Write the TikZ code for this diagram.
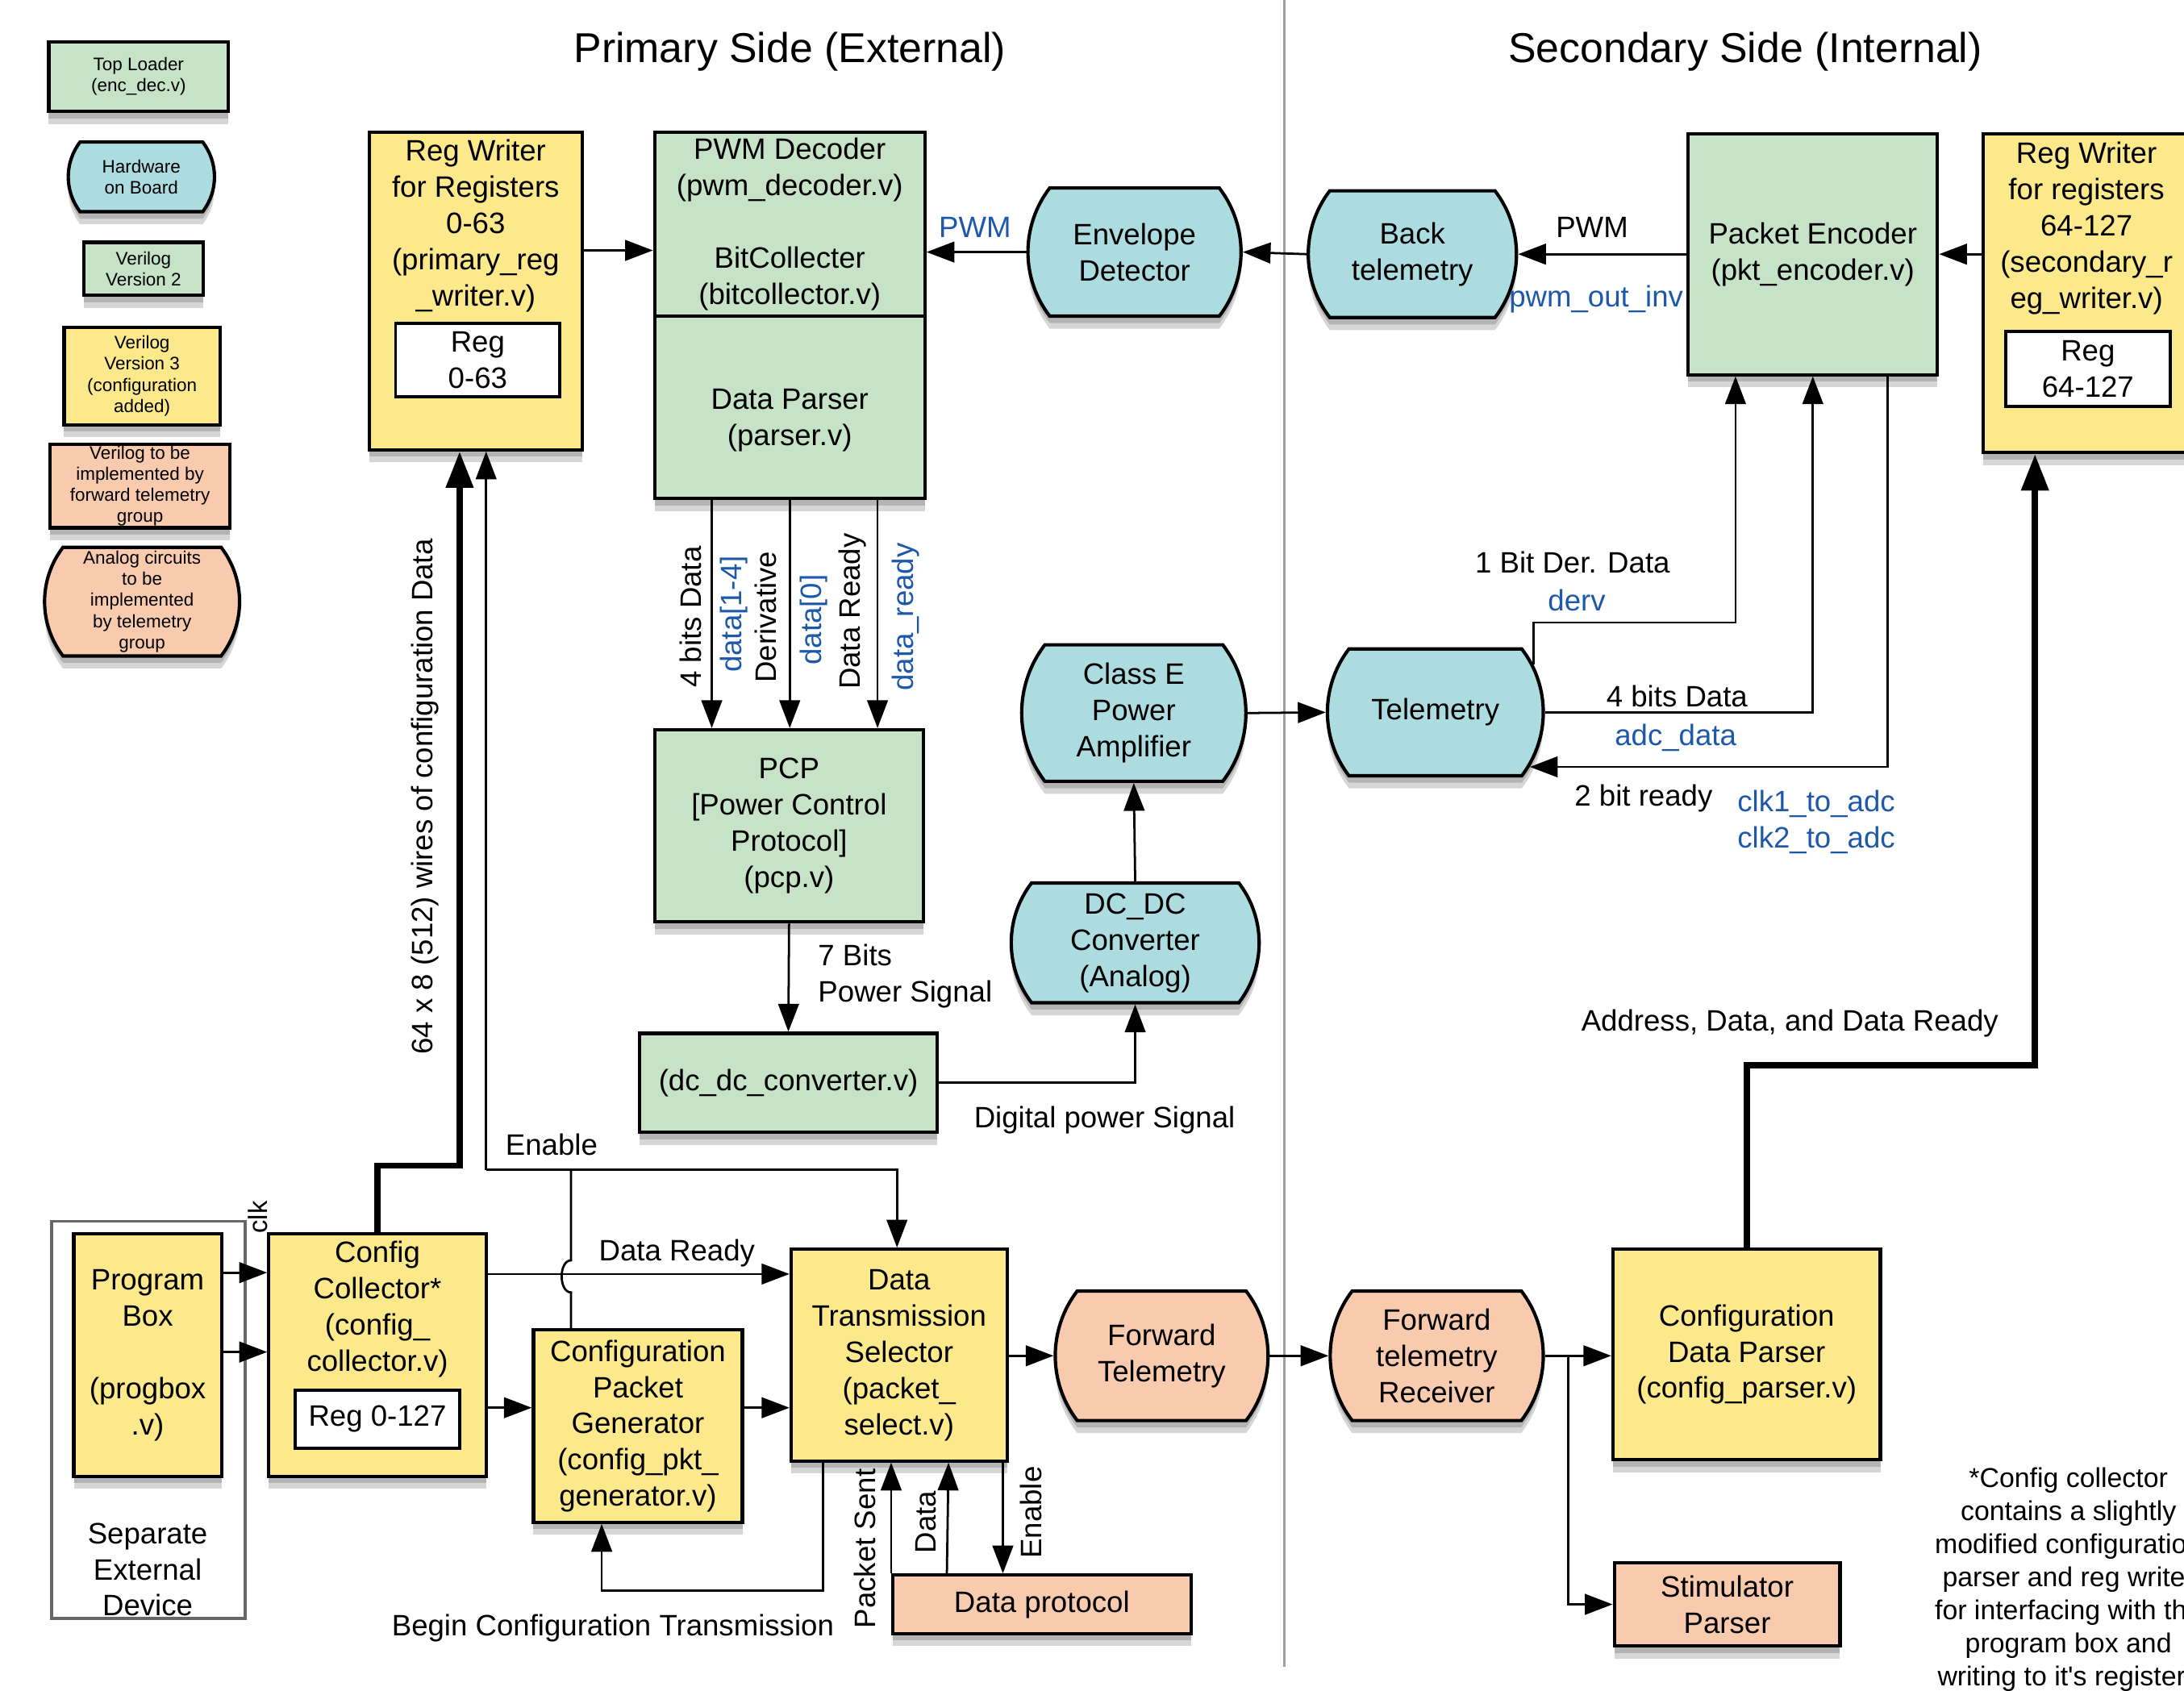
\documentclass[tikz,border=0pt]{standalone}
\usepackage{fontspec}
\setmainfont{Liberation Sans}
\usepackage{xcolor}
\usepackage{tikz}
\usetikzlibrary{arrows.meta,shapes.misc,shadows,calc}

\definecolor{vgreen}{RGB}{198,227,199}
\definecolor{vyellow}{RGB}{252,233,139}
\definecolor{hwblue}{RGB}{172,220,224}
\definecolor{tsalmon}{RGB}{249,203,174}
\definecolor{sigblue}{RGB}{30,88,170}

\begin{document}
\begin{tikzpicture}[x=0.5pt,y=0.5pt,yscale=-1,xscale=1,
    every node/.style={font=\fontsize{10.6}{13}\selectfont, inner sep=0pt, align=center},
    boxshadow/.style={drop shadow={shadow xshift=0pt,shadow yshift=-4.5pt,opacity=.16,fill=black},
                      drop shadow={shadow xshift=0pt,shadow yshift=-2.5pt,opacity=.16,fill=black}},
    block/.style={draw, line width=1.2pt, rectangle, boxshadow},
    greenbox/.style={block, fill=vgreen},
    yellowbox/.style={block, fill=vyellow},
    salmonbox/.style={block, fill=tsalmon},
    regbox/.style={draw, line width=1.1pt, fill=white},
    analog/.style={draw, line width=1.2pt, rounded rectangle, rounded rectangle arc length=75, boxshadow},
    bluepill/.style={analog, fill=hwblue},
    salmonpill/.style={analog, fill=tsalmon},
    wire/.style={line width=0.8pt, -{Triangle[length=10pt,width=7.4pt]}},
    plainwire/.style={line width=0.8pt},
    bus/.style={line width=2.2pt, -{Triangle[length=13pt,width=9.5pt]}},
    sig/.style={text=sigblue},
    legend/.style={font=\fontsize{6.5}{7.6}\selectfont},
  ]
    \useasboundingbox (0,0) rectangle (1568,1214);
    %Straight Lines: side separator
    \draw[gray!75, line width=0.8pt] (922,0) -- (922,1197);
    % Text Node
    \node[font=\fontsize{15}{18}\selectfont] (primtitle) at (567,37) {Primary Side (External)};
    \node[font=\fontsize{15}{18}\selectfont] (sectitle) at (1253,37) {Secondary Side (Internal)};

    %Legend
    \node[greenbox, legend, minimum width=64.5pt, minimum height=25pt] (lgtop) at (99.5,55) {Top Loader\\(enc\_dec.v)};
    \node[bluepill, legend, minimum width=52.5pt, minimum height=25pt] (lghw) at (101.5,127) {Hardware\\on Board};
    \node[greenbox, legend, minimum width=43pt, minimum height=19pt] (lgvtwo) at (103,193) {Verilog\\Version 2};
    \node[yellowbox, legend, minimum width=56pt, minimum height=35pt] (lgvthree) at (102,270) {Verilog\\Version 3\\(configuration\\added)};
    \node[salmonbox, legend, minimum width=64.5pt, minimum height=30pt] (lgfwd) at (100.5,349) {Verilog to be\\implemented by\\forward telemetry\\group};
    \node[salmonpill, legend, minimum width=70pt, minimum height=39pt] (lgana) at (102,432) {Analog circuits\\to be\\implemented\\by telemetry\\group};

    %Primary side, top
    \node[yellowbox, minimum width=76.5pt, minimum height=114pt] (rwone) at (341.5,209) {};
    \node (rwonetxt) at (341.5,162) {Reg Writer\\for Registers\\0-63\\(primary\_reg\\\_writer.v)};
    \node[regbox, minimum width=59pt, minimum height=26.5pt] (rwonereg) at (343,258.5) {Reg\\0-63};
    \node[greenbox, minimum width=97pt, minimum height=66pt] (decoder) at (567,161) {PWM Decoder\\(pwm\_decoder.v)\\[13pt]BitCollecter\\(bitcollector.v)};
    \node[greenbox, minimum width=97pt, minimum height=65.5pt] (parser) at (567,292.5) {};
    \node (parsertxt) at (567,302) {Data Parser\\(parser.v)};
    \node[bluepill, minimum width=76.5pt, minimum height=46pt] (env) at (814.5,181) {Envelope\\Detector};
    \node[greenbox, minimum width=96.5pt, minimum height=69pt] (pcp) at (566.5,593) {PCP\\{}[Power Control\\Protocol]\\(pcp.v)};
    \node[greenbox, minimum width=107pt, minimum height=35.5pt] (dcv) at (566,777.5) {(dc\_dc\_converter.v)};
    \node[bluepill, minimum width=89pt, minimum height=43pt] (dcdc) at (815,677) {DC\_DC\\Converter\\(Analog)};
    \node[bluepill, minimum width=76pt, minimum height=49pt] (classe) at (814,512) {Class E\\Power\\Amplifier};

    %Secondary side, top
    \node[bluepill, minimum width=69pt, minimum height=45.5pt] (bt) at (1014,182.5) {Back\\telemetry};
    \node[greenbox, minimum width=89.5pt, minimum height=86.5pt] (pe) at (1301.5,182.5) {Packet Encoder\\(pkt\_encoder.v)};
    \node[yellowbox, minimum width=75pt, minimum height=114.5pt] (rwtwo) at (1499,210.5) {};
    \node (rwtwotxt) at (1498,164) {Reg Writer\\for registers\\64-127\\(secondary\_r\\eg\_writer.v)};
    \node[regbox, minimum width=59pt, minimum height=27pt] (rwtworeg) at (1499,265) {Reg\\64-127};
    \node[bluepill, minimum width=77.5pt, minimum height=45.5pt] (tele) at (1030.5,511.5) {Telemetry};

    %Bottom row
    \node[draw=gray!80!black, line width=1pt, minimum width=69.5pt, minimum height=142.5pt] (sepdev) at (106.5,1019.5) {};
    \node[yellowbox, minimum width=53pt, minimum height=87pt] (pb) at (106,973) {Program\\Box\\[13pt](progbox\\.v)};
    \node (septxt) at (106,1127) {Separate\\External\\Device};
    \node[yellowbox, minimum width=78pt, minimum height=87pt] (cc) at (271,973) {};
    \node (cctxt) at (271,940) {Config\\Collector*\\(config\_\\collector.v)};
    \node[regbox, minimum width=59pt, minimum height=21pt] (ccreg) at (271,1019) {Reg 0-127};
    \node[yellowbox, minimum width=75pt, minimum height=69pt] (cpg) at (458,1024) {Configuration\\Packet\\Generator\\(config\_pkt\_\\generator.v)};
    \node[yellowbox, minimum width=77.5pt, minimum height=76pt] (dts) at (645.5,973) {Data\\Transmission\\Selector\\(packet\_\\select.v)};
    \node[salmonbox, minimum width=107pt, minimum height=21pt] (dp) at (748,1152) {Data protocol};
    \node[salmonpill, minimum width=76pt, minimum height=46.5pt] (ft) at (834,973.5) {Forward\\Telemetry};
    \node[salmonpill, minimum width=76.5pt, minimum height=46.5pt] (ftr) at (1031.5,973.5) {Forward\\telemetry\\Receiver};
    \node[yellowbox, minimum width=96pt, minimum height=75.5pt] (cdp) at (1254,972.5) {Configuration\\Data Parser\\(config\_parser.v)};
    \node[salmonbox, minimum width=81pt, minimum height=30pt] (stim) at (1240,1152) {Stimulator\\Parser};
    \node[font=\fontsize{9.8}{11.85}\selectfont] (fnote) at (1485,1134) {*Config collector\\contains a slightly\\modified configuration\\parser and reg writer\\for interfacing with the\\program box and\\writing to it\textquotesingle s registers};

    %Connectors, primary side
    \draw[wire] ($(rwone.north east)+(0,86)$) -- ($(decoder.north west)+(0,86)$);
    \draw[wire] (env.west) -- (env.west -| decoder.east);
    \draw[wire] (bt.west) -- (env.east);
    \node[sig] (lblpwm) at (700,163) {PWM};
    \foreach \xx in {511,567,630}
        \draw[wire] (parser.south -| \xx,0) -- (pcp.north -| \xx,0);
    \node[rotate=90] (lblfour) at (496,443) {4 bits Data};
    \node[rotate=90, sig] (lbldata) at (527,441) {data[1-4]};
    \node[rotate=90] (lblder) at (550,443) {Derivative};
    \node[rotate=90, sig] (lbldzero) at (584,445) {data[0]};
    \node[rotate=90] (lblready) at (612,439) {Data Ready};
    \node[rotate=90, sig] (lbldready) at (650,443) {data\_ready};
    \draw[wire] (pcp.south) -- (dcv.north);
    \node[align=left, anchor=west] (lblseven) at (587,701) {7 Bits\\Power Signal};
    \draw[wire] (dcv.east) -| (dcdc.south);
    \node (lbldigital) at (793,804) {Digital power Signal};
    \draw[wire] (dcdc.north) -- (classe.south);
    \draw[wire] (classe.east) -- (tele.west);

    %Connectors, secondary side
    \draw[wire] (pe.west) -- (bt.east);
    \node (lblpwmb) at (1143,163) {PWM};
    \node[sig] (lblinv) at (1146,215) {pwm\_out\_inv};
    \draw[wire] (rwtwo.west |- pe.west) -- (pe.east);
    \coordinate (dervturn) at (1246,447);
    \draw[wire] (tele.26) |- (dervturn) -- (dervturn |- pe.south);
    \node (lblderd) at (1129,404) {1 Bit Der. Data};
    \node[sig] (lblderv) at (1132,431) {derv};
    \draw[wire] (tele.east) -| (pe.south);
    \node (lblfourb) at (1204,500) {4 bits Data};
    \node[sig] (lbladc) at (1203,530) {adc\_data};
    \draw[wire] (pe.south -| 1355,0) |- (tele.-30);
    \node (lbltwo) at (1180,573) {2 bit ready};
    \node[sig, align=left, anchor=west] (lblclk) at (1247,590) {clk1\_to\_adc\\clk2\_to\_adc};
    \coordinate (addrturn) at (1254,765);
    \coordinate (addrup) at (1461,765);
    \draw[bus] (cdp.north) -- (addrturn) -- (addrup) -- (addrup |- rwtwo.south);
    \node (lbladdr) at (1285,735) {Address, Data, and Data Ready};

    %Connectors, bottom row
    \draw[wire] ($(pb.north east)+(0,29)$) -- ($(cc.north west)+(0,29)$);
    \draw[wire] ($(pb.north east)+(0,86)$) -- ($(cc.north west)+(0,86)$);
    \node[rotate=90, font=\fontsize{9.5}{11}\selectfont] (lblclock) at (185,874) {clk};
    \coordinate (busturn) at (271,837);
    \coordinate (busup) at (330,837);
    \draw[bus] (cc.north) -- (busturn) -- (busup) -- (busup |- rwone.south);
    \node[rotate=90] (lblwires) at (305,572) {64 x 8 (512) wires of configuration Data};
    \coordinate (enleft) at (349,840);
    \coordinate (enjoin) at (410,840);
    \coordinate (enright) at (644,840);
    \draw[wire] (enleft) -- (enleft |- rwone.south);
    \draw[wire] (enleft) -- (enright) -- (enright |- dts.north);
    \draw[plainwire] (cpg.north -| enjoin) -- (410,928) .. controls (401,928) and (401,905) .. (410,905) -- (enjoin);
    \node (lblenable) at (396,822) {Enable};
    \draw[wire] ($(cc.north east)+(0,30)$) -- ($(dts.north west)+(0,19)$);
    \node (lbldr) at (486,900) {Data Ready};
    \draw[wire] ($(cc.north east)+(0,126)$) -- ($(cpg.north west)+(0,57)$);
    \draw[wire] ($(cpg.north east)+(0,57)$) -- ($(dts.north west)+(0,115)$);
    \coordinate (loopturn) at (591,1142);
    \coordinate (loopup) at (432,1142);
    \draw[wire] (dts.south -| loopturn) -- (loopturn) -- (loopup) -- (loopup |- cpg.south);
    \node (lblbegin) at (440,1169) {Begin Configuration Transmission};
    \draw[wire] (dp.north west) -- (dts.south -| dp.north west);
    \draw[wire] ($(dp.north west)+(40,0)$) -- (dts.south -| 681,0);
    \draw[wire] (dts.south -| 720,0) -- (dp.north -| 720,0);
    \node[rotate=90] (lblsent) at (621,1112) {Packet Sent};
    \node[rotate=90] (lbldt) at (665,1093) {Data};
    \node[rotate=90] (lblen) at (740,1086) {Enable};
    \draw[wire] (dts.east |- ft.west) -- (ft.west);
    \draw[wire] (ft.east) -- (ftr.west);
    \draw[wire] (ftr.east) -- (cdp.west |- ftr.east);
    \coordinate (stimturn) at (1126,973.5);
    \draw[wire] (stimturn) |- (stim.west);
\end{tikzpicture}
\end{document}
